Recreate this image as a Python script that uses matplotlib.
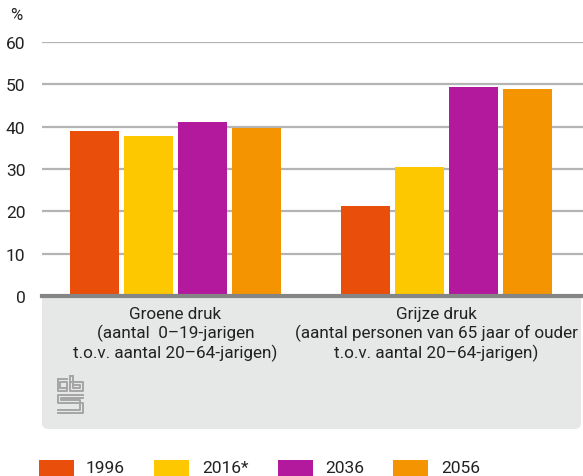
import matplotlib.pyplot as plt
import matplotlib.transforms as mtransforms
import numpy as np
from matplotlib.patches import FancyBboxPatch, Rectangle
from matplotlib.lines import Line2D

plt.rcParams['font.family'] = ['Roboto', 'DejaVu Sans']

groups = ['Groene druk\n(aantal  0–19-jarigen\nt.o.v. aantal 20–64-jarigen)',
          'Grijze druk\n(aantal personen van 65 jaar of ouder\nt.o.v. aantal 20–64-jarigen)']
years = ['1996', '2016*', '2036', '2056']
colors = ['#e94e0b', '#fdc800', '#b3199d', '#f39400']
values = {
    '1996': [39.0, 21.3],
    '2016*': [37.8, 30.5],
    '2036': [41.1, 49.4],
    '2056': [39.7, 49.0],
}

W, H = 583, 477
fig = plt.figure(figsize=(W / 100, H / 100), dpi=100)

# grey panel under the axis
panel = FancyBboxPatch((42 / W, (H - 430) / H), (583 - 42 - 2) / W, (430 - 299) / H,
                       boxstyle='round,pad=0,rounding_size=0.012',
                       transform=fig.transFigure, facecolor='#e6e7e7',
                       edgecolor='none', zorder=-5)
fig.patches.append(panel)
# square off the top corners
fig.patches.append(Rectangle((42 / W, (H - 310) / H), (583 - 42 - 2) / W, 12 / H,
                             transform=fig.transFigure, facecolor='#e6e7e7',
                             edgecolor='none', zorder=-5))

ax = fig.add_axes([42 / W, (H - 297) / H, (W - 42) / W, (297 - 43) / H])
ax.patch.set_alpha(0)

x = np.arange(len(groups))
pitch = 0.1993
width = 0.181
for i, y in enumerate(years):
    ax.bar(x + (i - 1.5) * pitch, values[y], width=width, color=colors[i], zorder=3)

ax.set_xlim(-0.4926, 1.5037)
ax.set_ylim(0, 60)
ax.set_yticks(range(0, 61, 10))
ax.yaxis.grid(True, color='#b4b4b4', linewidth=1.6, zorder=0)
ax.set_axisbelow(True)
for s in ['top', 'right', 'left']:
    ax.spines[s].set_visible(False)
ax.spines['bottom'].set_color('#858585')
ax.spines['bottom'].set_linewidth(3)
ax.spines['bottom'].set_zorder(4)
ax.tick_params(axis='y', length=0, pad=12, labelsize=12.5, labelcolor='#222222')
ax.tick_params(axis='x', length=0, pad=7)
ax.set_xticks(x)
ax.set_xticklabels(groups, fontsize=12.3, color='#222222', linespacing=1.2)
# the long label is nudged left so it fits inside the panel
lab = ax.get_xticklabels()[1]
lab.set_transform(lab.get_transform() +
                  mtransforms.ScaledTranslation(-0.10, 0, fig.dpi_scale_trans))

fig.text(10 / W, 1 - 16 / H, '%', fontsize=12, color='#222222', va='center')

# cbs logo (rough outline)
lc = '#a5a5a5'
def fl(xs, ys):
    fig.add_artist(Line2D([v / W for v in xs], [1 - v / H for v in ys],
                          color=lc, linewidth=1.4, transform=fig.transFigure))
fl([58, 58, 67, 67, 60, 60, 67], [380, 392, 392, 383, 383, 389, 389])
fl([58, 67], [380, 380])
fl([70, 70, 83, 83, 70], [377, 392, 392, 383, 383])
fl([73, 73, 80, 80, 73], [377, 389, 389, 386, 386])
fl([70, 73], [377, 377])
fl([83, 58, 58, 83, 83, 58], [396, 396, 404, 404, 414, 414])
fl([83, 61, 61, 80, 80, 58], [399, 399, 401, 401, 411, 411])

# legend
sw_x = [39, 154, 278, 393]
tx_x = [86, 202, 325, 441]
for i, y in enumerate(years):
    fig.patches.append(Rectangle((sw_x[i] / W, 0), 35 / W, 16 / H,
                                 transform=fig.transFigure, facecolor=colors[i],
                                 edgecolor='none'))
    fig.text(tx_x[i] / W, 1 - 469 / H, y, fontsize=12.5, color='#222222', va='center')

fig.savefig('out.png', dpi=100)
